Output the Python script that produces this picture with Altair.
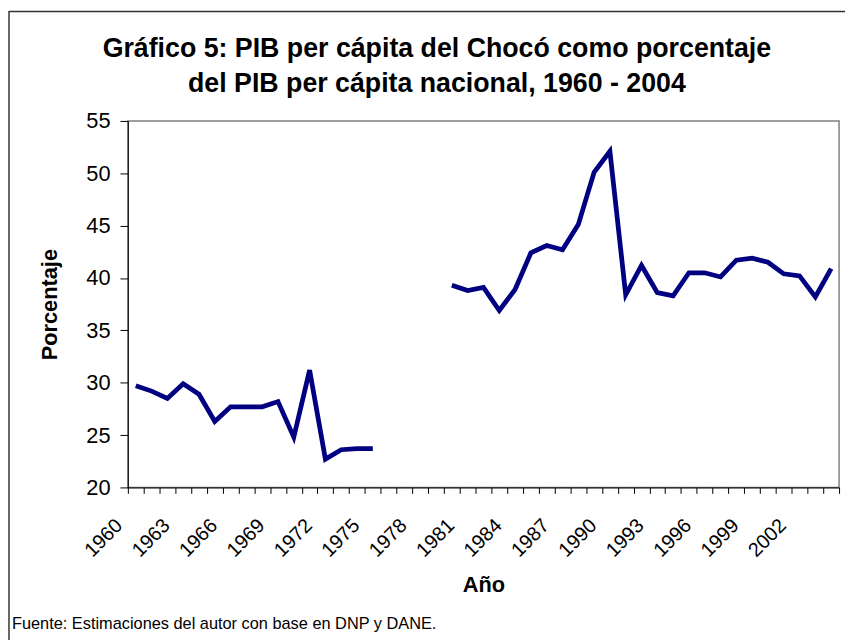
import altair as alt
import pandas as pd

# ---- data ----
years = list(range(1960, 2005))
values = [29.7, 29.2, 28.5, 29.9, 28.9, 26.3, 27.7, 27.7, 27.7, 28.2, 24.8, 31.2, 22.7, 23.6, 23.7, 23.7,
          None, None, None, None,
          39.3, 38.8, 39.1, 36.9, 38.9, 42.4, 43.1, 42.7, 45.1, 50.1, 52.1, 38.4, 41.2, 38.6, 38.3,
          40.5, 40.5, 40.1, 41.7, 41.9, 41.5, 40.4, 40.2, 38.2, 40.9]
y_ticks = [20, 25, 30, 35, 40, 45, 50, 55]
title_lines = ["Gráfico 5: PIB per cápita del Chocó como porcentaje",
               "del PIB per cápita nacional, 1960 - 2004"]
x_title = "Año"
y_title = "Porcentaje"
footnote = "Fuente: Estimaciones del autor con base en DNP y DANE."

rows = []
seg = 0
prev_missing = False
for yr, v in zip(years, values):
    if v is None:
        prev_missing = True
        continue
    if prev_missing:
        seg += 1
        prev_missing = False
    rows.append({"year": yr, "value": v, "segment": seg})
df = pd.DataFrame(rows)

FONT = "Liberation Sans"
W, H = 718, 370

x_enc = alt.X(
    "year:O",
    bandPosition=0.5,
    scale=alt.Scale(type="band", domain=years, paddingInner=0, paddingOuter=0),
    axis=alt.Axis(
        title=x_title,
        tickBand="extent",
        labelExpr="(datum.value - 1960) % 3 == 0 ? datum.label : ''",
        labelAngle=-45,
        labelAlign="right",
        labelBaseline="middle",
        labelOverlap=False,
        labelFontSize=20,
        labelPadding=29,
        labelOffset=-17,
        tickSize=6,
        tickColor="black",
        domainColor="black",
        labelColor="black",
        titleFontSize=22,
        titleFontWeight="bold",
        titlePadding=15,
        titleColor="black",
    ),
)

y_enc = alt.Y(
    "value:Q",
    scale=alt.Scale(domain=[20, 55], nice=False, zero=False),
    axis=alt.Axis(
        title=y_title,
        values=y_ticks,
        grid=False,
        labelFontSize=22,
        labelPadding=10,
        tickSize=8,
        tickColor="black",
        domainColor="black",
        labelColor="black",
        titleFontSize=22,
        titleFontWeight="bold",
        titlePadding=25,
        titleColor="black",
    ),
)

line = alt.Chart(df).mark_line(color="#000080", strokeWidth=4.8, strokeJoin="miter").encode(
    x=x_enc, y=y_enc, detail="segment:N"
)

title_df = pd.DataFrame({"t": title_lines, "row": [0, 1]})
title1 = alt.Chart(title_df).transform_filter("datum.row == 0").mark_text(
    align="center", baseline="alphabetic", fontSize=27, fontWeight="bold", font=FONT, color="black"
).encode(x=alt.value(312), y=alt.value(-65), text="t:N")
title2 = alt.Chart(title_df).transform_filter("datum.row == 1").mark_text(
    align="center", baseline="alphabetic", fontSize=27, fontWeight="bold", font=FONT, color="black"
).encode(x=alt.value(312), y=alt.value(-29), text="t:N")

note_df = pd.DataFrame({"t": [footnote]})
note = alt.Chart(note_df).mark_text(
    align="left", baseline="alphabetic", fontSize=16.5, font=FONT, color="black"
).encode(x=alt.value(-117), y=alt.value(513), text="t:N")

frame_df = pd.DataFrame({"k": [0]})
frame_top = alt.Chart(frame_df).mark_rule(color="#333333", strokeWidth=1.5).encode(
    x=alt.value(-120), x2=alt.value(W + 10), y=alt.value(-110.5)
)
frame_left = alt.Chart(frame_df).mark_rule(color="#333333", strokeWidth=1.5).encode(
    x=alt.value(-120), y=alt.value(-111), y2=alt.value(H + 160)
)

chart = alt.layer(line, title1, title2, note, frame_top, frame_left).properties(
    width=W,
    height=H,
    autosize=alt.AutoSizeParams(type="none"),
    padding={"left": 121, "top": 111, "right": 6, "bottom": 151},
).configure(font=FONT).configure_view(
    stroke="#808080", strokeWidth=1.5
).configure_axis(labelFont=FONT, titleFont=FONT)

chart.save("out.html", embed_options={"renderer": "svg", "actions": False})
